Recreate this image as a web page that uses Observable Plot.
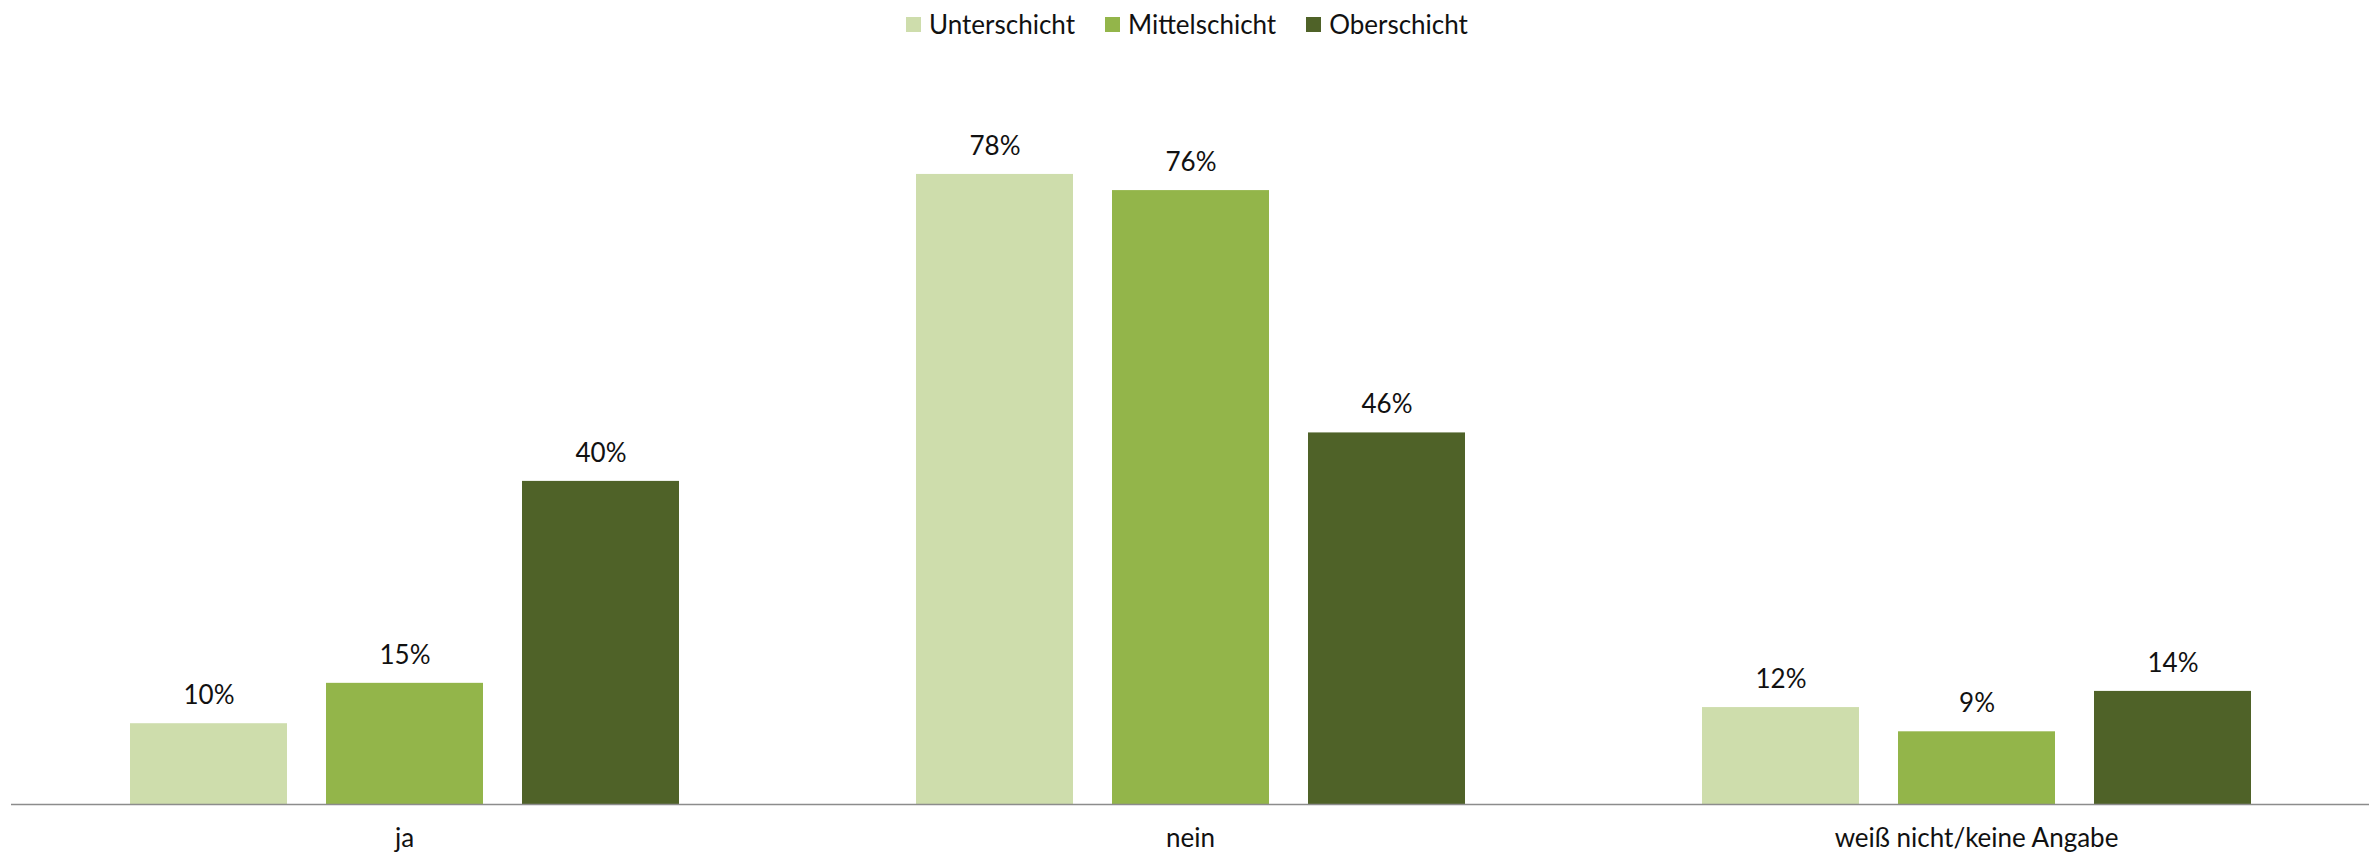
<!DOCTYPE html>
<html>
<head>
<meta charset="utf-8">
<script src="https://cdn.jsdelivr.net/npm/d3@7"></script>
<script src="https://cdn.jsdelivr.net/npm/@observablehq/plot@0.6"></script>
<style>
  html, body { margin: 0; padding: 0; background: #fff; }
  body { width: 2374px; height: 852px; overflow: hidden; font-family: Lato, "Open Sans", sans-serif; }
  #legend { height: 44px; display: flex; justify-content: center; align-items: center; padding-top: 4px; box-sizing: border-box; font-size: 26px; color: #111; }
  #legend .item { display: flex; align-items: center; margin: 0 15px; }
  #legend .sw { width: 15px; height: 15px; margin-right: 8px; }
</style>
</head>
<body>
<div id="legend"></div>
<div id="chart"></div>
<script>
const categories = ["ja", "nein", "weiß nicht/keine Angabe"];
const series = ["Unterschicht", "Mittelschicht", "Oberschicht"];
const colors = ["#CEDDAC", "#93B54A", "#4F6228"];
const unterschicht = [10, 78, 12];
const mittelschicht = [15, 76, 9];
const oberschicht = [40, 46, 14];

const valuesBySeries = [unterschicht, mittelschicht, oberschicht];
const data = [];
categories.forEach((c, i) => {
  series.forEach((s, j) => {
    data.push({category: c, series: s, value: valuesBySeries[j][i]});
  });
});

const legend = document.getElementById("legend");
series.forEach((s, j) => {
  const item = document.createElement("div");
  item.className = "item";
  const sw = document.createElement("div");
  sw.className = "sw";
  sw.style.background = colors[j];
  const label = document.createElement("span");
  label.textContent = s;
  item.appendChild(sw);
  item.appendChild(label);
  legend.appendChild(item);
});

const chart = Plot.plot({
  width: 2374,
  height: 808,
  marginTop: 33,
  marginBottom: 48,
  marginLeft: 10,
  marginRight: 5,
  style: {fontFamily: "Lato, 'Open Sans', sans-serif", fontSize: "26px", color: "#111", background: "#fff"},
  fx: {domain: categories, padding: 0, axis: "bottom", tickSize: 0, tickPadding: 24, label: null},
  x: {domain: series, axis: null, paddingInner: 0.2, paddingOuter: 0.6},
  y: {domain: [0, 90], axis: null},
  color: {domain: series, range: colors},
  marks: [
    Plot.barY(data, {fx: "category", x: "series", y: "value", fill: "series"}),
    Plot.text(data, {fx: "category", x: "series", y: "value", text: d => d.value + "%", dy: -28, lineAnchor: "middle", fill: "#111", fontSize: 26}),
    Plot.ruleY([0], {stroke: "#8c8c8c", strokeWidth: 1.5})
  ]
});
document.getElementById("chart").appendChild(chart);
</script>
</body>
</html>
